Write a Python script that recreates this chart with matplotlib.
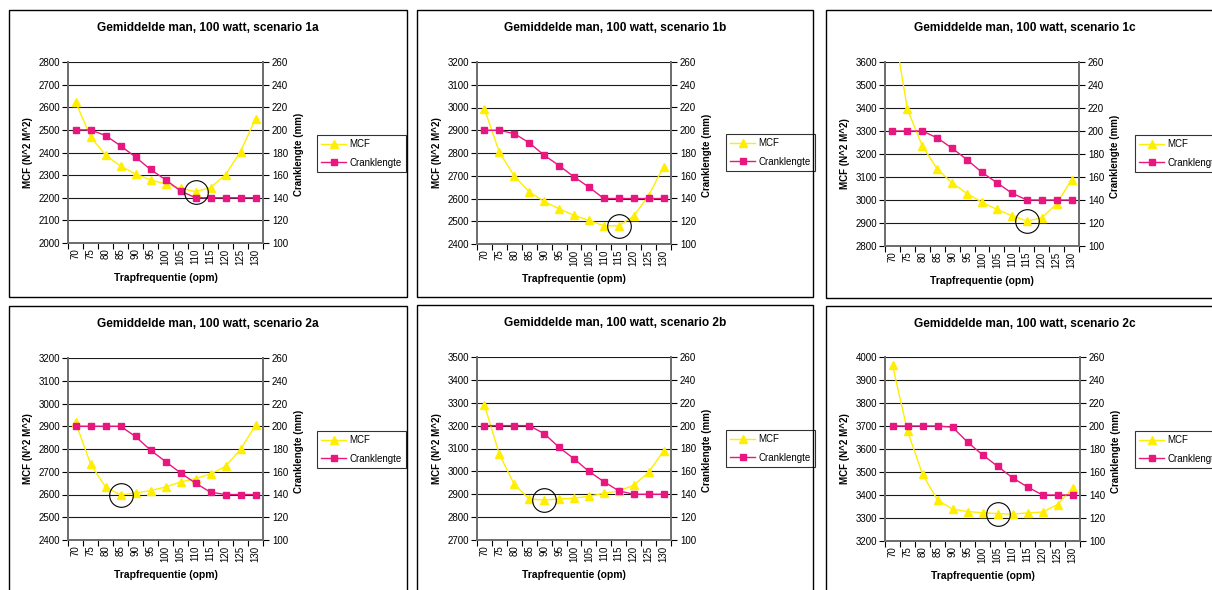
import matplotlib
matplotlib.use("Agg")
import matplotlib.pyplot as plt
from matplotlib.patches import Rectangle

plt.rcParams['font.family'] = ['Liberation Sans', 'DejaVu Sans']

# ---------------- data ----------------
freq = [70, 75, 80, 85, 90, 95, 100, 105, 110, 115, 120, 125, 130]

titles = ["Gemiddelde man, 100 watt, scenario 1a",
          "Gemiddelde man, 100 watt, scenario 1b",
          "Gemiddelde man, 100 watt, scenario 1c",
          "Gemiddelde man, 100 watt, scenario 2a",
          "Gemiddelde man, 100 watt, scenario 2b",
          "Gemiddelde man, 100 watt, scenario 2c"]

mcf_1a = [2624, 2470, 2389, 2340, 2305, 2279, 2261, 2242, 2227, 2245, 2302, 2404, 2549]
mcf_1b = [2993, 2803, 2699, 2629, 2587, 2555, 2526, 2504, 2480, 2480, 2523, 2613, 2740]
mcf_1c = [3790, 3394, 3235, 3135, 3074, 3028, 2990, 2959, 2932, 2909, 2922, 2983, 3088]
mcf_2a = [2917, 2735, 2633, 2598, 2607, 2617, 2633, 2655, 2670, 2690, 2724, 2798, 2905]
mcf_2b = [3290, 3074, 2943, 2879, 2875, 2879, 2883, 2891, 2904, 2915, 2939, 2996, 3089]
mcf_2c = [3964, 3678, 3490, 3378, 3339, 3328, 3323, 3319, 3317, 3322, 3326, 3358, 3429]

crank_1a = [200, 200, 195, 186, 176, 165, 156, 146, 140, 140, 140, 140, 140]
crank_1b = [200, 200, 197, 189, 178, 169, 159, 150, 140, 140, 140, 140, 140]
crank_1c = [200, 200, 200, 194, 185, 175, 164, 155, 146, 140, 140, 140, 140]
crank_2a = [200, 200, 200, 200, 191, 179, 169, 159, 150, 142, 140, 140, 140]
crank_2b = [200, 200, 200, 200, 193, 181, 171, 160, 151, 143, 140, 140, 140]
crank_2c = [200, 200, 200, 200, 199, 186, 175, 165, 155, 147, 140, 140, 140]

mcf_limits = [(2000, 2800), (2400, 3200), (2800, 3600),
              (2400, 3200), (2700, 3500), (3200, 4000)]
crank_limits = (100, 260)

circled = [110, 115, 115, 85, 90, 105]

mcf_all = [mcf_1a, mcf_1b, mcf_1c, mcf_2a, mcf_2b, mcf_2c]
crank_all = [crank_1a, crank_1b, crank_1c, crank_2a, crank_2b, crank_2c]

# ---------------- layout (pixels) ----------------
W, H = 1212, 590
# plot areas: left, right, top, bottom
plot_px = [(68, 263, 62, 243), (477, 671, 62, 244), (885, 1079, 62, 246),
           (68, 263, 358, 540), (477, 671, 357, 540), (885, 1080, 357, 541)]
# panel borders: left, right, top, bottom
panel_px = [(9, 407, 10, 297), (417, 813, 10, 297), (826, 1224, 10, 298),
            (9, 407, 306, 594), (417, 813, 305, 594), (826, 1224, 306, 594)]
legend_px = [(317, 135), (726, 134), (1135, 135),
             (317, 431), (726, 430), (1135, 431)]

YEL = '#FFEE00'
PINK = '#E8177F'

fig = plt.figure(figsize=(W / 100, H / 100), dpi=100)
fig.patch.set_facecolor('white')


def fx(p):
    return p / W


def fy(p):
    return 1 - p / H


for i in range(6):
    pl, pr, pt, pb = panel_px[i]
    fig.add_artist(Rectangle((fx(pl), fy(pb)), (pr - pl) / W, (pb - pt) / H,
                             transform=fig.transFigure, fill=False,
                             edgecolor='black', linewidth=1.0))
    l, r, t, b = plot_px[i]
    ax = fig.add_axes([fx(l), fy(b), (r - l) / W, (b - t) / H])
    ax2 = ax.twinx()
    x = list(range(len(freq)))

    lo, hi = mcf_limits[i]
    ax.set_xlim(-0.5, len(freq) - 0.5)
    ax.set_ylim(lo, hi)
    ax2.set_ylim(*crank_limits)

    ax.set_yticks(list(range(lo, hi + 1, 100)))
    ax2.set_yticks(list(range(crank_limits[0], crank_limits[1] + 1, 20)))
    ax.set_xticks(x)
    ax.set_xticklabels([str(f) for f in freq], rotation=90, fontsize=7)
    ax.set_xticks([v - 0.5 for v in range(len(freq) + 1)], minor=True)
    ax.tick_params(axis='x', which='major', length=0, pad=4)
    ax.tick_params(axis='x', which='minor', length=4, width=0.8, color='black')
    ax.tick_params(axis='y', labelsize=7, length=4, width=0.8, pad=1.5)
    ax2.tick_params(axis='y', labelsize=7, length=4, width=0.8, pad=2.5)

    ax.grid(axis='y', color='#1a1a1a', linewidth=0.8)
    ax.set_axisbelow(True)
    for a in (ax, ax2):
        a.spines['top'].set_visible(False)
        for s in ('left', 'right', 'bottom'):
            a.spines[s].set_color('#6e6e6e')
            a.spines[s].set_linewidth(1.3)

    l1, = ax.plot(x, mcf_all[i], color=YEL, linewidth=1.0, marker='^',
                  markersize=6, markerfacecolor=YEL, markeredgecolor=YEL,
                  label='MCF')
    l2, = ax2.plot(x, crank_all[i], color=PINK, linewidth=1.0, marker='s',
                   markersize=4.5, markerfacecolor=PINK, markeredgecolor=PINK,
                   label='Cranklengte')
    ci = freq.index(circled[i])
    ax2.plot([ci], [mcf_all[i][ci]], transform=ax.transData, marker='o',
             markersize=17, markerfacecolor='none', markeredgecolor='black',
             markeredgewidth=0.8, linestyle='none', clip_on=False)

    lx, ly = legend_px[i]
    leg = ax2.legend(handles=[l1, l2], loc='upper left',
                     bbox_to_anchor=(fx(lx), fy(ly)),
                     bbox_transform=fig.transFigure, borderaxespad=0,
                     fontsize=7, frameon=True, fancybox=False, shadow=False,
                     handlelength=2.5, handletextpad=0.4, borderpad=0.45,
                     labelspacing=0.85, numpoints=1)
    leg.get_frame().set_edgecolor('black')
    leg.get_frame().set_linewidth(0.8)

    # texts
    fig.text(fx((pl + pr) / 2), fy(pt + 18), titles[i], ha='center',
             va='center', fontsize=8.6, fontweight='bold')
    fig.text(fx(l - 40), fy((t + b) / 2), 'MCF (N^2 M^2)', rotation=90,
             ha='center', va='center', fontsize=7, fontweight='bold')
    fig.text(fx(r + 36), fy((t + b) / 2 + 2), 'Cranklengte (mm)', rotation=90,
             ha='center', va='center', fontsize=7, fontweight='bold')
    fig.text(fx((l + r) / 2), fy(b + 35), 'Trapfrequentie (opm)', ha='center',
             va='center', fontsize=7.5, fontweight='bold')

fig.savefig('out.png', dpi=100, facecolor='white')
